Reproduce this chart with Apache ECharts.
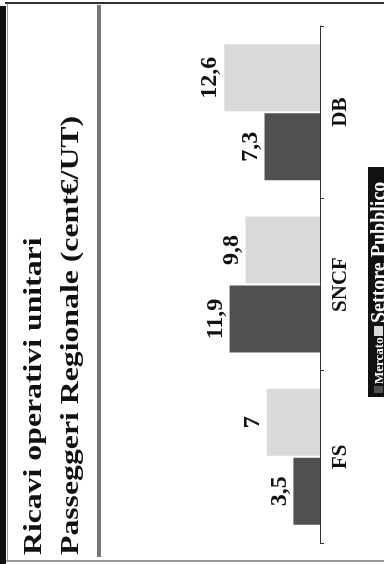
<!DOCTYPE html>
<html>
<head>
<meta charset="utf-8">
<style>
  html, body { margin: 0; padding: 0; background: #fff; }
  #chart { width: 384px; height: 564px; }
</style>
<script src="https://cdn.jsdelivr.net/npm/echarts@6/dist/echarts.min.js"></script>
</head>
<body>
<div id="chart"></div>
<script>
// Operators shown along the category axis
const categories = ['FS', 'SNCF', 'DB'];
// Unit operating revenue, cent€ per traffic unit
const mercato = [3.5, 11.9, 7.3];
const settorePubblico = [7, 9.8, 12.6];
const seriesNames = ['Mercato', 'Settore Pubblico'];
const titleLines = ['Ricavi operativi unitari', 'Passeggeri Regionale (cent€/UT)'];

const SERIF = '"Liberation Serif", "Times New Roman", serif';
const DARK = '#505050';
const LIGHT = '#d9d9d9';

const chart = echarts.init(document.getElementById('chart'), null, { renderer: 'canvas' });

const fmt = p => String(p.value).replace('.', ',');

const valueLabel = {
  show: true,
  position: 'left',
  rotate: 90,
  align: 'center',
  verticalAlign: 'bottom',
  distance: 2,
  formatter: fmt,
  color: '#111',
  fontSize: 24,
  fontWeight: 'bold',
  fontFamily: SERIF
};

const option = {
  backgroundColor: '#fff',
  animation: false,
  grid: { left: 168, right: 64, top: 26, bottom: 21, containLabel: false },
  xAxis: {
    type: 'value',
    min: 0,
    max: 20,
    inverse: true,
    show: false
  },
  yAxis: {
    type: 'category',
    data: categories,
    position: 'right',
    axisLine: { show: true, lineStyle: { color: '#333', width: 1 } },
    axisTick: { show: true, length: 4, lineStyle: { color: '#333' } },
    axisLabel: {
      rotate: 90,
      margin: 10,
      color: '#111',
      fontSize: 21,
      fontWeight: 'bold',
      fontFamily: SERIF
    },
    splitLine: { show: false }
  },
  // horizontal bars stack their series top-down inside a band,
  // so the light series goes first to sit above the dark one
  series: [
    {
      name: seriesNames[1],
      type: 'bar',
      data: settorePubblico,
      barWidth: 67,
      barGap: '3%',
      itemStyle: { color: LIGHT },
      label: valueLabel
    },
    {
      name: seriesNames[0],
      type: 'bar',
      data: mercato,
      barWidth: 67,
      barGap: '3%',
      itemStyle: { color: DARK },
      label: valueLabel
    }
  ],
  graphic: [
    // frame of the slide
    { type: 'rect', shape: { x: 0, y: 6, width: 6, height: 558 }, style: { fill: '#111' } },
    { type: 'rect', shape: { x: 5, y: 2, width: 379, height: 2 }, style: { fill: '#333' } },
    { type: 'rect', shape: { x: 7, y: 4, width: 1, height: 557 }, style: { fill: '#999' } },
    { type: 'rect', shape: { x: 6, y: 560, width: 378, height: 2 }, style: { fill: '#9a9a9a' } },
    // rule under the title
    { type: 'rect', shape: { x: 97, y: 5, width: 4, height: 552 }, style: { fill: '#777' } },
    // title, written upward
    {
      type: 'group',
      x: 0,
      y: 555,
      rotation: Math.PI / 2,
      children: [
        {
          type: 'text',
          x: 0, y: 34.5,
          scaleX: 1.27,
          style: { text: titleLines[0], fill: '#111', font: 'bold 25px ' + SERIF, verticalAlign: 'middle', align: 'left' }
        },
        {
          type: 'text',
          x: 0, y: 71.5,
          scaleX: 1.27,
          style: { text: titleLines[1], fill: '#111', font: 'bold 25px ' + SERIF, verticalAlign: 'middle', align: 'left' }
        }
      ]
    },
    // legend, written upward on a black band
    {
      type: 'group',
      x: 368,
      y: 397,
      rotation: Math.PI / 2,
      children: [
        { type: 'rect', shape: { x: 0, y: 0, width: 230, height: 20 }, style: { fill: '#111' } },
        { type: 'rect', shape: { x: 4, y: 6, width: 7, height: 9 }, style: { fill: DARK } },
        {
          type: 'text', x: 13, y: 12,
          style: { text: seriesNames[0], fill: '#fff', font: 'bold 13px ' + SERIF, verticalAlign: 'middle', align: 'left' }
        },
        { type: 'rect', shape: { x: 61, y: 6, width: 10, height: 9 }, style: { fill: LIGHT } },
        {
          type: 'text', x: 74, y: 12,
          style: { text: seriesNames[1], fill: '#fff', font: 'bold 20px ' + SERIF, verticalAlign: 'middle', align: 'left' }
        }
      ]
    }
  ]
};

chart.setOption(option);
</script>
</body>
</html>
